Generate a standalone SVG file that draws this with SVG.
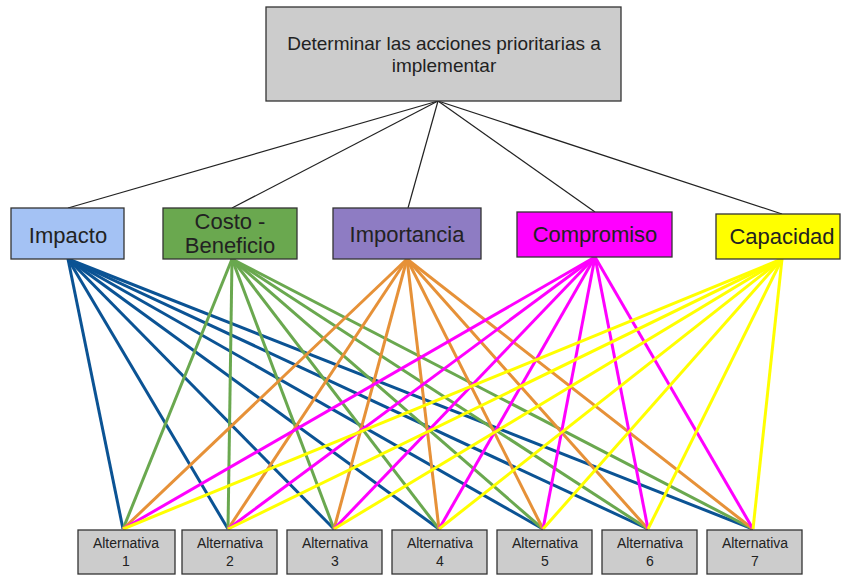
<svg xmlns="http://www.w3.org/2000/svg" width="841" height="575" viewBox="0 0 841 575">
<style>
.box{stroke:#333;stroke-width:1.3}
.t{font-family:"Liberation Sans",Arial,sans-serif;fill:#222;text-anchor:middle}
.top{font-size:19px}
.crit{font-size:22px}
.alt{font-size:14px}
.k{stroke:#222;stroke-width:1.2;fill:none}
.c1{stroke:#0b5394;stroke-width:3}
.c2{stroke:#6aa84f;stroke-width:3}
.c3{stroke:#e69138;stroke-width:3}
.c4{stroke:#ff00ff;stroke-width:3}
.c5{stroke:#ffff00;stroke-width:3}
</style>
<rect width="841" height="575" fill="#fff"/>
<g id="connectors">
<g class="k">
<line x1="438" y1="101" x2="68" y2="208"/>
<line x1="438" y1="101" x2="232" y2="208"/>
<line x1="438" y1="101" x2="408" y2="208"/>
<line x1="438" y1="101" x2="595" y2="212"/>
<line x1="438" y1="101" x2="782" y2="214"/>
</g>
<g class="c1">
<line x1="68" y1="259" x2="123" y2="529"/>
<line x1="68" y1="259" x2="228" y2="529"/>
<line x1="68" y1="259" x2="334" y2="529"/>
<line x1="68" y1="259" x2="439" y2="529"/>
<line x1="68" y1="259" x2="543" y2="529"/>
<line x1="68" y1="259" x2="648" y2="529"/>
<line x1="68" y1="259" x2="753" y2="529"/>
</g>
<g class="c2">
<line x1="232" y1="259" x2="123" y2="529"/>
<line x1="232" y1="259" x2="228" y2="529"/>
<line x1="232" y1="259" x2="334" y2="529"/>
<line x1="232" y1="259" x2="439" y2="529"/>
<line x1="232" y1="259" x2="543" y2="529"/>
<line x1="232" y1="259" x2="648" y2="529"/>
<line x1="232" y1="259" x2="753" y2="529"/>
</g>
<g class="c3">
<line x1="407" y1="259" x2="123" y2="529"/>
<line x1="407" y1="259" x2="228" y2="529"/>
<line x1="407" y1="259" x2="334" y2="529"/>
<line x1="407" y1="259" x2="439" y2="529"/>
<line x1="407" y1="259" x2="543" y2="529"/>
<line x1="407" y1="259" x2="648" y2="529"/>
<line x1="407" y1="259" x2="753" y2="529"/>
</g>
<g class="c4">
<line x1="595" y1="257" x2="123" y2="529"/>
<line x1="595" y1="257" x2="228" y2="529"/>
<line x1="595" y1="257" x2="334" y2="529"/>
<line x1="595" y1="257" x2="439" y2="529"/>
<line x1="595" y1="257" x2="543" y2="529"/>
<line x1="595" y1="257" x2="648" y2="529"/>
<line x1="595" y1="257" x2="753" y2="529"/>
</g>
<g class="c5">
<line x1="782" y1="259" x2="123" y2="529"/>
<line x1="782" y1="259" x2="228" y2="529"/>
<line x1="782" y1="259" x2="334" y2="529"/>
<line x1="782" y1="259" x2="439" y2="529"/>
<line x1="782" y1="259" x2="543" y2="529"/>
<line x1="782" y1="259" x2="648" y2="529"/>
<line x1="782" y1="259" x2="753" y2="529"/>
</g>
</g>
<g id="goal">
<rect class="box" x="266" y="7" width="355" height="94" fill="#cccccc"/>
<text class="t top" x="444" y="50">Determinar las acciones prioritarias a</text>
<text class="t top" x="444" y="72">implementar</text>
</g>
<g id="impacto">
<rect class="box" x="11" y="208" width="113" height="51" fill="#a4c2f4"/>
<text class="t crit" x="68" y="243">Impacto</text>
</g>
<g id="costo">
<rect class="box" x="163" y="208" width="134" height="51" fill="#6aa84f"/>
<text class="t crit" x="230" y="229">Costo -</text>
<text class="t crit" x="230" y="253">Beneficio</text>
</g>
<g id="importancia">
<rect class="box" x="333" y="208" width="148" height="51" fill="#8e7cc3"/>
<text class="t crit" x="407" y="242">Importancia</text>
</g>
<g id="compromiso">
<rect class="box" x="517" y="212" width="155" height="45" fill="#ff00ff"/>
<text class="t crit" x="595" y="242">Compromiso</text>
</g>
<g id="capacidad">
<rect class="box" x="716" y="214" width="124" height="45" fill="#ffff00"/>
<text class="t crit" x="782" y="244">Capacidad</text>
</g>
<g id="alt1"><rect class="box" x="78" y="530" width="97" height="44" fill="#cccccc"/><text class="t alt" x="126" y="548">Alternativa</text><text class="t alt" x="126" y="566">1</text></g>
<g id="alt2"><rect class="box" x="182" y="530" width="95" height="44" fill="#cccccc"/><text class="t alt" x="230" y="548">Alternativa</text><text class="t alt" x="230" y="566">2</text></g>
<g id="alt3"><rect class="box" x="287" y="530" width="95" height="44" fill="#cccccc"/><text class="t alt" x="335" y="548">Alternativa</text><text class="t alt" x="335" y="566">3</text></g>
<g id="alt4"><rect class="box" x="392" y="530" width="95" height="44" fill="#cccccc"/><text class="t alt" x="440" y="548">Alternativa</text><text class="t alt" x="440" y="566">4</text></g>
<g id="alt5"><rect class="box" x="497" y="530" width="95" height="44" fill="#cccccc"/><text class="t alt" x="545" y="548">Alternativa</text><text class="t alt" x="545" y="566">5</text></g>
<g id="alt6"><rect class="box" x="602" y="530" width="95" height="44" fill="#cccccc"/><text class="t alt" x="650" y="548">Alternativa</text><text class="t alt" x="650" y="566">6</text></g>
<g id="alt7"><rect class="box" x="707" y="530" width="95" height="44" fill="#cccccc"/><text class="t alt" x="755" y="548">Alternativa</text><text class="t alt" x="755" y="566">7</text></g>
</svg>
